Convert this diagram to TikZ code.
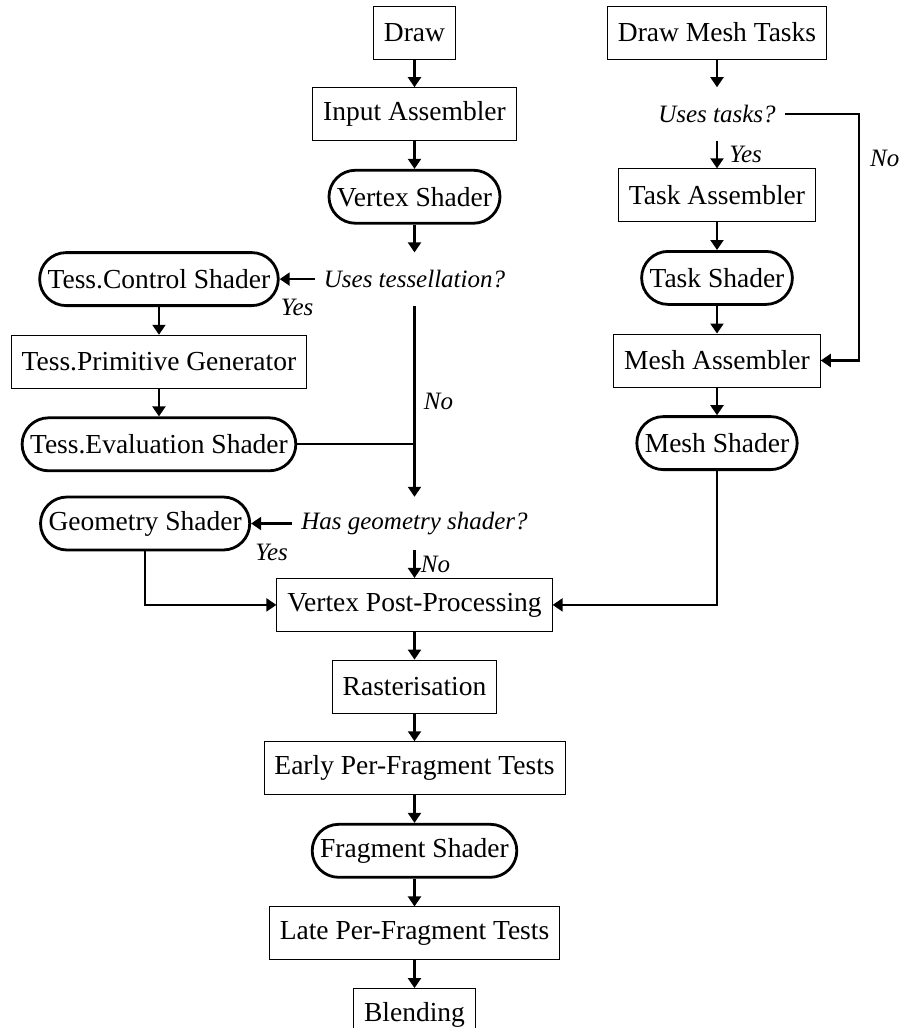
\documentclass[tikz,border=0pt]{standalone}
\usepackage{fontspec}
\setmainfont{Liberation Serif}
\usetikzlibrary{positioning,arrows.meta}

\tikzset{
  stepbox/.style={draw, line width=0.9pt, minimum height=53pt, inner xsep=10.5pt,
    font=\fontsize{27.5}{33}\selectfont},
  shader/.style={stepbox, line width=2.8pt, rounded corners=26.5pt, inner xsep=8pt},
  query/.style={minimum height=53pt, inner xsep=9pt, font=\fontsize{25}{30}\selectfont\itshape},
  answer/.style={font=\fontsize{25}{30}\selectfont\itshape},
  arr/.style={line width=2.1pt, -{Triangle[length=10pt,width=13pt]}},
  link/.style={line width=2.1pt},
}

\begin{document}
\begin{tikzpicture}[x=1pt, y=1pt, node distance=27.75pt]
  \useasboundingbox (0,0) rectangle (906,-1028);

  % vertex pipeline
  \node[stepbox] (draw) at (414.5,-32.5) {Draw};
  \node[stepbox, below=of draw] (inasm) {Input Assembler};
  \node[shader, below=of inasm] (vsh) {Vertex Shader};
  \node[query, below=of vsh] (usetess) {Uses tessellation?};
  \node[shader, left=35pt of usetess] (tcs) {Tess.Control Shader};
  \node[stepbox, below=of tcs] (tpg) {Tess.Primitive Generator};
  \node[shader, below=of tpg] (tes) {Tess.Evaluation Shader};
  \node[query, below=191pt of usetess] (usegeom) {Has geometry shader?};
  \node[shader, left=41pt of usegeom] (gsh) {Geometry Shader};
  \node[stepbox, below=of usegeom] (vpp) {Vertex Post-Processing};
  \node[stepbox, below=of vpp] (rast) {Rasterisation};
  \node[stepbox, below=of rast] (early) {Early Per-Fragment Tests};
  \node[shader, below=of early] (fsh) {Fragment Shader};
  \node[stepbox, below=of fsh] (late) {Late Per-Fragment Tests};
  \node[stepbox, below=of late] (blend) {Blending};

  % mesh pipeline
  \node[stepbox] (drawmesh) at (717,-32.5) {Draw Mesh Tasks};
  \node[query, below=of drawmesh] (usetask) {Uses tasks?};
  \node[stepbox, below=of usetask] (tasm) {Task Assembler};
  \node[shader, below=of tasm] (tsh) {Task Shader};
  \node[stepbox, below=of tsh] (masm) {Mesh Assembler};
  \node[shader, below=of masm] (msh) {Mesh Shader};

  \draw[arr] (draw) -- (inasm);
  \draw[arr] (inasm) -- (vsh);
  \draw[arr] (vsh) -- (usetess);
  \draw[arr] (usetess) -- node[answer, below=16pt] {Yes} (tcs);
  \draw[arr] (tcs) -- (tpg);
  \draw[arr] (tpg) -- (tes);
  \draw[arr] (usetess) -- node[answer, right=5pt] {No} (usegeom);
  \draw[link] (tes) -- (tes -| usetess);
  \draw[arr] (usegeom) -- node[answer, below=16pt] {Yes} (gsh);
  \draw[arr] (usegeom) -- node[answer, right=2pt] {No} (vpp);
  \draw[arr] (gsh.south) |- (vpp.west);
  \draw[arr] (vpp) -- (rast);
  \draw[arr] (rast) -- (early);
  \draw[arr] (early) -- (fsh);
  \draw[arr] (fsh) -- (late);
  \draw[arr] (late) -- (blend);

  \draw[arr] (drawmesh) -- (usetask);
  \draw[arr] (usetask) -- node[answer, right=8pt] {Yes} (tasm);
  \draw[arr] (usetask.east) -| node[answer, pos=0.59, right=7pt] {No} ([xshift=38pt]masm.east) -- (masm.east);
  \draw[arr] (tasm) -- (tsh);
  \draw[arr] (tsh) -- (masm);
  \draw[arr] (masm) -- (msh);
  \draw[arr] (msh.south) |- (vpp.east);
\end{tikzpicture}
\end{document}
